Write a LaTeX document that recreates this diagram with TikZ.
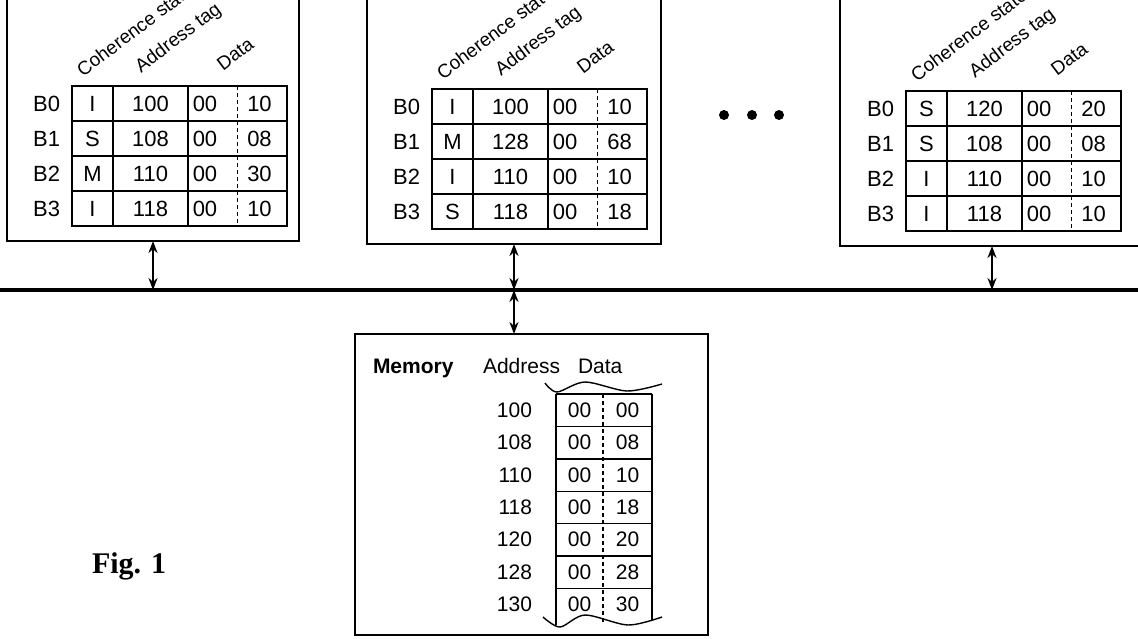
\documentclass[tikz,border=0pt]{standalone}
\usepackage{fontspec}
\setmainfont{Liberation Sans}
\newfontfamily\figfont{Liberation Serif}
\usetikzlibrary{positioning,arrows.meta}

% one cache table: name, left x, top y, rows
\newcommand{\cachetable}[4]{%
  \foreach \blk/\cst/\ctg/\dhi/\dlo [count=\r from 0] in {#4}{%
    \node[cell,minimum width=41pt,anchor=north west] (#1s\r) at (#2,#3+35*\r) {\cst};
    \node[cell,minimum width=75pt,right=0pt of #1s\r] (#1t\r) {\ctg};
    \node[cell,minimum width=99pt,right=0pt of #1t\r] (#1d\r) {};
    \draw[datadiv] (#1d\r.north) -- (#1d\r.south);
    \node (#1h\r) at ([xshift=17pt]#1d\r.west) {\dhi};
    \node (#1l\r) at ([xshift=22pt]#1d\r.center) {\dlo};
    \node[anchor=east] (#1b\r) at ([xshift=-12pt]#1s\r.west) {\blk};
  }%
  \node[header] (#1hc) at ([xshift=11pt,yshift=9pt]#1s0.north west) {Coherence state};
  \node[header] (#1ha) at ([xshift=28pt,yshift=13pt]#1t0.north west) {Address tag};
  \node[header] (#1hd) at ([xshift=35pt,yshift=15pt]#1d0.north west) {Data};
}

\begin{document}
\begin{tikzpicture}[x=1pt,y=-1pt,
    every node/.style={inner sep=0pt,outer sep=0pt,font=\fontsize{22}{26}\selectfont},
    cell/.style={draw,line width=1.4pt,minimum height=35pt},
    datadiv/.style={line width=1.3pt,dash pattern=on 4pt off 3pt},
    header/.style={anchor=base west,rotate=37,font=\fontsize{19}{22}\selectfont},
    unitbox/.style={draw,line width=2.2pt},
    busarrow/.style={line width=2.8pt,{Stealth[length=12pt,width=9pt]}-{Stealth[length=12pt,width=9pt]}},
    memtext/.style={font=\fontsize{21}{24}\selectfont}]
  \useasboundingbox (0,0) rectangle (1138,638);
  \clip (0,0) rectangle (1138,638);

  % caches
  \node[unitbox,minimum width=292pt,minimum height=261pt] (cache1) at (153,110.5) {};
  \node[unitbox,minimum width=294pt,minimum height=264pt] (cache2) at (514,112) {};
  \node[unitbox,minimum width=304pt,minimum height=266pt] (cache3) at (992,113) {};
  \cachetable{ca}{72}{86}{B0/I/100/00/10,B1/S/108/00/08,B2/M/110/00/30,B3/I/118/00/10}
  \cachetable{cb}{432}{89}{B0/I/100/00/10,B1/M/128/00/68,B2/I/110/00/10,B3/S/118/00/18}
  \cachetable{cc}{906}{91}{B0/S/120/00/20,B1/S/108/00/08,B2/I/110/00/10,B3/I/118/00/10}
  \fill (724,115) circle (5pt) (752,115) circle (5pt) (779,115) circle (5pt);

  % bus
  \coordinate (busL) at (0,290);
  \coordinate (busR) at (1138,290);
  \draw[line width=4pt] (busL) -- (busR);
  \draw[busarrow] (cache1.south) -- (cache1.south |- busL);
  \draw[busarrow] (cache2.south) -- (cache2.south |- busL);
  \draw[busarrow] (cache3.south) -- (cache3.south |- busL);

  % memory
  \node[unitbox,minimum width=353pt,minimum height=301pt] (mem) at (531.5,484.5) {};
  \draw[busarrow] (cache2.south |- busL) -- (cache2.south |- mem.north);
  \node[anchor=base west,font=\fontsize{21}{24}\selectfont\bfseries] (memlbl) at (373,373) {Memory};
  \node[memtext,anchor=base west] (memaddr) at (483,373) {Address};
  \node[memtext,anchor=base west] (memdata) at (578,373) {Data};
  \foreach \k in {0,...,6}
    \draw[line width=1.4pt] (556,394+32.4*\k) -- (652,394+32.4*\k);
  \draw[line width=1.4pt] (556,394) -- (556,625) (652,394) -- (652,620);
  \draw[datadiv] (603,394) -- (603,622);
  \foreach \addr/\dhi/\dlo [count=\r from 0] in
    {100/00/00,108/00/08,110/00/10,118/00/18,120/00/20,128/00/28,130/00/30}{
    \node[memtext,anchor=east] (ma\r) at (532,410+32.4*\r) {\addr};
    \node[memtext] (mh\r) at (579.5,410+32.4*\r) {\dhi};
    \node[memtext] (ml\r) at (627.5,410+32.4*\r) {\dlo};
  }
  \draw[line width=1.4pt] plot[smooth] coordinates {(545,383) (557,392) (585,382) (627,391) (662,384)};
  \draw[line width=1.4pt] plot[smooth] coordinates {(543,617) (560,627) (585,615) (628,625) (662,617)};

  \node[anchor=base west,font=\figfont\bfseries\fontsize{30}{34}\selectfont] (fig) at (92,573) {Fig. 1};
\end{tikzpicture}
\end{document}
